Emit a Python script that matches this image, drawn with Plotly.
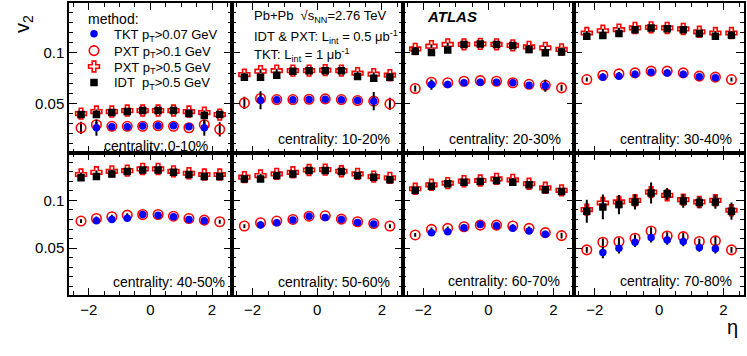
import plotly.graph_objects as go
from plotly.subplots import make_subplots

eta = [-2.25, -1.75, -1.25, -0.75, -0.25, 0.25, 0.75, 1.25, 1.75, 2.25]
eta_tkt = [-1.75, -1.25, -0.75, -0.25, 0.25, 0.75, 1.25, 1.75]
centrality = ["0-10%", "10-20%", "20-30%", "30-40%", "40-50%", "50-60%", "60-70%", "70-80%"]

# v2 per centrality bin (rows) vs eta (columns)
tkt_v2 = [
    [0.026, 0.027, 0.027, 0.0277, 0.028, 0.028, 0.027, 0.026],
    [0.0532, 0.0536, 0.0536, 0.0539, 0.0542, 0.0536, 0.0529, 0.0523],
    [0.0687, 0.0687, 0.0705, 0.071, 0.071, 0.0705, 0.068, 0.0675],
    [0.076, 0.077, 0.079, 0.081, 0.0803, 0.079, 0.0764, 0.0754],
    [0.0786, 0.080, 0.0813, 0.0852, 0.0845, 0.0828, 0.080, 0.0786],
    [0.0741, 0.0765, 0.0793, 0.0834, 0.082, 0.080, 0.0769, 0.0752],
    [0.0662, 0.0672, 0.0714, 0.0748, 0.0734, 0.0707, 0.0679, 0.0645],
    [0.0455, 0.050, 0.0562, 0.061, 0.0586, 0.0569, 0.0507, 0.0493],
]
tkt_err = [
    [0.008, 0.002, 0.002, 0.002, 0.002, 0.002, 0.002, 0.008],
    [0.009, 0.002, 0.002, 0.002, 0.002, 0.002, 0.002, 0.009],
    [0.005, 0.002, 0.002, 0.002, 0.002, 0.002, 0.002, 0.006],
    [0.003, 0.002, 0.002, 0.002, 0.002, 0.002, 0.002, 0.002],
    [0.002, 0.002, 0.002, 0.002, 0.002, 0.002, 0.002, 0.002],
    [0.002, 0.002, 0.002, 0.002, 0.002, 0.002, 0.002, 0.002],
    [0.002, 0.002, 0.002, 0.002, 0.002, 0.002, 0.002, 0.002],
    [0.006, 0.0055, 0.005, 0.005, 0.005, 0.005, 0.0045, 0.005],
]
pxt01_v2 = [
    [0.0259, 0.029, 0.0274, 0.0274, 0.0274, 0.028, 0.0274, 0.026, 0.029, 0.0244],
    [0.0506, 0.0549, 0.0539, 0.0539, 0.0542, 0.0546, 0.0539, 0.0529, 0.0523, 0.0496],
    [0.0648, 0.071, 0.0705, 0.072, 0.0726, 0.072, 0.0705, 0.069, 0.068, 0.0655],
    [0.0737, 0.078, 0.0793, 0.0803, 0.082, 0.082, 0.0803, 0.0771, 0.0761, 0.0737],
    [0.0783, 0.081, 0.0828, 0.0845, 0.0852, 0.0852, 0.0834, 0.081, 0.0793, 0.0776],
    [0.0731, 0.0765, 0.0783, 0.080, 0.0834, 0.0838, 0.0803, 0.0776, 0.0758, 0.0731],
    [0.0638, 0.0696, 0.0707, 0.0724, 0.0741, 0.0741, 0.0731, 0.0707, 0.0662, 0.0631],
    [0.0482, 0.0562, 0.0569, 0.0603, 0.0679, 0.0627, 0.062, 0.0569, 0.0576, 0.0482],
]
pxt01_err = [
    [0.006, 0.003, 0.002, 0.002, 0.002, 0.002, 0.002, 0.002, 0.004, 0.007],
    [0.006, 0.003, 0.002, 0.002, 0.002, 0.002, 0.002, 0.002, 0.004, 0.006],
    [0.003, 0.002, 0.002, 0.002, 0.002, 0.002, 0.002, 0.002, 0.002, 0.003],
    [0.002, 0.002, 0.002, 0.002, 0.002, 0.002, 0.002, 0.002, 0.002, 0.002],
    [0.002, 0.002, 0.002, 0.002, 0.002, 0.002, 0.002, 0.002, 0.002, 0.002],
    [0.002, 0.002, 0.002, 0.002, 0.002, 0.002, 0.002, 0.002, 0.002, 0.002],
    [0.002, 0.002, 0.002, 0.002, 0.002, 0.002, 0.002, 0.002, 0.002, 0.003],
    [0.003, 0.004, 0.004, 0.004, 0.004, 0.004, 0.004, 0.003, 0.004, 0.003],
]
pxt05_v2 = [
    [0.040, 0.042, 0.042, 0.043, 0.043, 0.043, 0.043, 0.042, 0.041, 0.039],
    [0.0786, 0.082, 0.0825, 0.0825, 0.0825, 0.083, 0.0825, 0.080, 0.079, 0.078],
    [0.104, 0.1067, 0.1085, 0.1085, 0.109, 0.1085, 0.1075, 0.106, 0.105, 0.1035],
    [0.1198, 0.122, 0.1231, 0.1248, 0.1254, 0.1248, 0.1238, 0.121, 0.1198, 0.1198],
    [0.127, 0.1293, 0.1303, 0.131, 0.1328, 0.1328, 0.1303, 0.1283, 0.127, 0.127],
    [0.1242, 0.1259, 0.1276, 0.1293, 0.1317, 0.1321, 0.1304, 0.1276, 0.1248, 0.1235],
    [0.1121, 0.1162, 0.118, 0.120, 0.1207, 0.1224, 0.1214, 0.1173, 0.1131, 0.1104],
    [0.0903, 0.0972, 0.0983, 0.100, 0.1086, 0.1052, 0.1007, 0.0983, 0.100, 0.0896],
]
pxt05_err = [
    [0.002, 0.002, 0.002, 0.002, 0.002, 0.002, 0.002, 0.002, 0.002, 0.002],
    [0.002, 0.002, 0.002, 0.002, 0.002, 0.002, 0.002, 0.002, 0.002, 0.002],
    [0.002, 0.002, 0.002, 0.002, 0.002, 0.002, 0.002, 0.002, 0.002, 0.002],
    [0.002, 0.002, 0.002, 0.002, 0.002, 0.002, 0.002, 0.002, 0.002, 0.002],
    [0.002, 0.002, 0.002, 0.002, 0.002, 0.002, 0.002, 0.002, 0.002, 0.002],
    [0.002, 0.002, 0.002, 0.002, 0.002, 0.002, 0.002, 0.002, 0.002, 0.002],
    [0.002, 0.002, 0.002, 0.002, 0.002, 0.002, 0.002, 0.002, 0.002, 0.002],
    [0.007, 0.006, 0.006, 0.005, 0.006, 0.005, 0.005, 0.004, 0.004, 0.006],
]
idt_v2 = [
    [0.039, 0.039, 0.041, 0.042, 0.043, 0.043, 0.043, 0.040, 0.038, 0.039],
    [0.076, 0.076, 0.078, 0.082, 0.0825, 0.0825, 0.0825, 0.0766, 0.075, 0.076],
    [0.1017, 0.1006, 0.103, 0.1085, 0.109, 0.1085, 0.1075, 0.1035, 0.1003, 0.101],
    [0.1165, 0.1172, 0.1192, 0.1231, 0.1248, 0.1241, 0.1231, 0.1192, 0.1165, 0.1175],
    [0.1235, 0.1248, 0.1276, 0.130, 0.1318, 0.1318, 0.1293, 0.127, 0.1248, 0.1248],
    [0.1224, 0.1224, 0.1259, 0.1276, 0.1311, 0.1311, 0.130, 0.1259, 0.1242, 0.1214],
    [0.1104, 0.1148, 0.1173, 0.119, 0.1197, 0.1207, 0.119, 0.1162, 0.111, 0.1093],
    [0.0886, 0.0931, 0.0955, 0.0983, 0.1076, 0.1069, 0.0993, 0.0976, 0.0983, 0.0886],
]
idt_err = [
    [0.003, 0.003, 0.002, 0.002, 0.002, 0.002, 0.002, 0.002, 0.003, 0.003],
    [0.002, 0.002, 0.002, 0.002, 0.002, 0.002, 0.002, 0.002, 0.002, 0.002],
    [0.002, 0.002, 0.002, 0.002, 0.002, 0.002, 0.002, 0.002, 0.002, 0.002],
    [0.002, 0.002, 0.002, 0.002, 0.002, 0.002, 0.002, 0.002, 0.002, 0.002],
    [0.002, 0.002, 0.002, 0.002, 0.002, 0.002, 0.002, 0.002, 0.002, 0.002],
    [0.002, 0.002, 0.002, 0.002, 0.002, 0.002, 0.002, 0.002, 0.002, 0.002],
    [0.002, 0.002, 0.002, 0.002, 0.002, 0.002, 0.002, 0.002, 0.002, 0.002],
    [0.012, 0.013, 0.010, 0.008, 0.011, 0.006, 0.007, 0.006, 0.007, 0.009],
]

FONT = "Liberation Sans, Arial, sans-serif"
W, H = 747, 356
L, R, T, B = 69, 2, 1, 61


def paper(px, py):
    # pixel position on the page -> paper coordinates
    return (px - L) / (W - L - R), (H - B - py) / (H - T - B)


def text_at(txt, px, py, size, xanchor="left", **kw):
    x, y = paper(px, py)
    return dict(text=txt, x=x, y=y, xref="paper", yref="paper", xanchor=xanchor,
                yanchor="middle", showarrow=False,
                font=dict(size=size, family=FONT, color="black"), **kw)


fig = make_subplots(rows=2, cols=4, horizontal_spacing=0, vertical_spacing=0,
                    column_widths=[163, 171, 172, 170], row_heights=[151, 143])

series = [
    # name, x, values, errors, marker, legend id, legend row (px)
    ("PXT p<sub>T</sub>&gt;0.5 GeV", eta, pxt05_v2, pxt05_err,
     dict(symbol="cross-open", size=9, color="red", line=dict(color="red", width=1.6)),
     "legend3", 65),
    ("IDT  p<sub>T</sub>&gt;0.5 GeV", eta, idt_v2, idt_err,
     dict(symbol="square", size=7.5, color="black"), "legend4", 81),
    ("PXT p<sub>T</sub>&gt;0.1 GeV", eta, pxt01_v2, pxt01_err,
     dict(symbol="circle-open", size=9.5, color="red", line=dict(color="red", width=1.6)),
     "legend2", 49),
    ("TKT p<sub>T</sub>&gt;0.07 GeV", eta_tkt, tkt_v2, tkt_err,
     dict(symbol="circle", size=7.5, color="#0000ff"), "legend", 32),
]

for i in range(8):
    row, col = i // 4 + 1, i % 4 + 1
    for name, xs, vals, errs, marker, leg, _ in series:
        fig.add_trace(go.Scatter(
            x=xs, y=vals[i], mode="markers", name=name, marker=marker,
            error_y=dict(type="data", array=errs[i], color="black", thickness=2, width=0),
            showlegend=(i == 0), legend=leg, hoverinfo="skip",
        ), row=row, col=col)

for i in range(8):
    row, col = i // 4 + 1, i % 4 + 1
    fig.update_xaxes(range=[-2.64, 2.64], tick0=0, dtick=2, ticks="inside", ticklen=7,
                     minor=dict(dtick=0.5, tick0=0, ticks="inside", ticklen=4, tickcolor="black"),
                     showline=True, linecolor="black", linewidth=1.5, mirror="allticks",
                     tickcolor="black", showgrid=False, zeroline=False,
                     showticklabels=(row == 2), tickfont=dict(size=15, color="black"),
                     row=row, col=col)
    fig.update_yaxes(range=[0.001, 0.1495], tick0=0, dtick=0.05, ticks="inside", ticklen=8,
                     minor=dict(dtick=0.01, tick0=0, ticks="inside", ticklen=4, tickcolor="black"),
                     showline=True, linecolor="black", linewidth=1.5, mirror="allticks",
                     tickcolor="black", showgrid=False, zeroline=False,
                     showticklabels=(col == 1), tickfont=dict(size=15, color="black"),
                     row=row, col=col)

annotations = []
# centrality labels, right-aligned near each panel's lower right corner
label_px = [(210, 145), (392, 138), (564, 138), (735, 138),
            (227, 282), (392, 282), (563, 281), (735, 281)]
for cent, (px, py) in zip(centrality, label_px):
    annotations.append(text_at("centrality: " + cent, px, py, 14, xanchor="right"))

annotations += [
    text_at("Pb+Pb  √s<sub>NN</sub>=2.76 TeV", 252, 15, 13),
    text_at("IDT &amp; PXT: L<sub>int</sub> = 0.5 μb<sup>-1</sup>", 252, 35, 13),
    text_at("TKT: L<sub>int</sub> = 1 μb<sup>-1</sup>", 252, 53, 13),
    text_at("<b><i>ATLAS</i></b>", 426, 15, 15),
    text_at("method:", 86, 17, 14),
    text_at("v<sub>2</sub>", 24, 22, 20, xanchor="center", textangle=-90),
    text_at("η", 733, 327, 20, xanchor="center"),
]

legends = {}
for _, _, _, _, _, leg, py in series:
    lx, ly = paper(74, py)
    legends[leg] = dict(x=lx, y=ly, xanchor="left", yanchor="middle",
                        bgcolor="rgba(0,0,0,0)", font=dict(size=13, family=FONT),
                        itemwidth=30, tracegroupgap=0)

fig.update_layout(
    width=W, height=H,
    margin=dict(l=L, r=R, t=T, b=B),
    plot_bgcolor="white", paper_bgcolor="white",
    font=dict(family=FONT, color="black"),
    annotations=annotations,
    **legends,
)

fig.write_html("out.html", config={"displayModeBar": False},
               post_script="document.body.style.margin='0';")
